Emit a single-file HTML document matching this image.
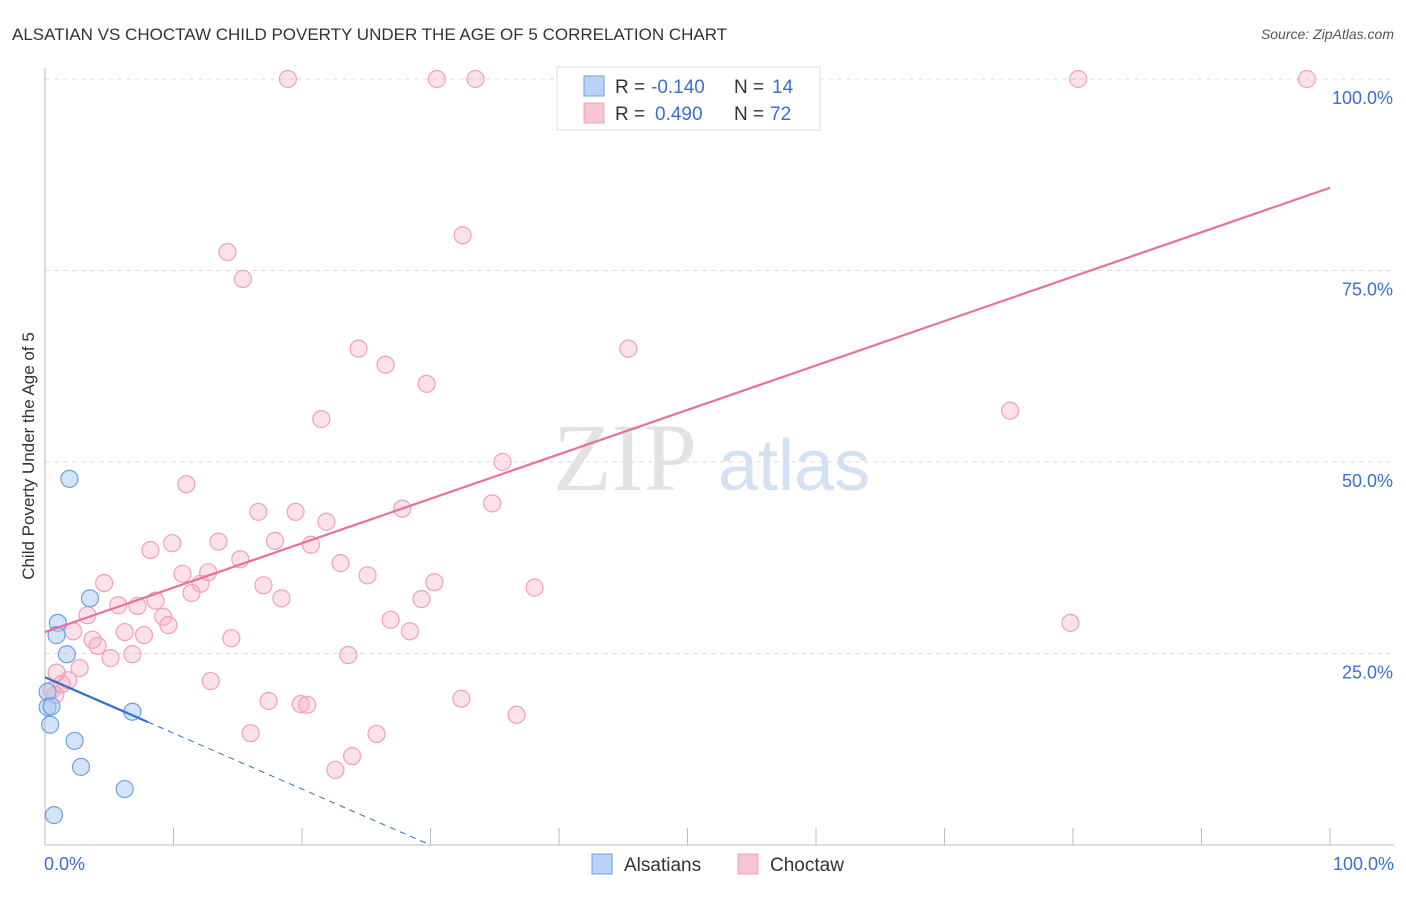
<!DOCTYPE html>
<html><head><meta charset="utf-8"><style>
body{margin:0;background:#fff;font-family:"Liberation Sans",sans-serif;}
</style></head><body>
<svg id="c" width="1406" height="892" viewBox="0 0 1406 892" font-family="Liberation Sans, sans-serif">
<text x="12" y="40" font-size="17" fill="#333">ALSATIAN VS CHOCTAW CHILD POVERTY UNDER THE AGE OF 5 CORRELATION CHART</text>
<text x="1394" y="39" font-size="14" fill="#555" text-anchor="end" font-style="italic">Source: ZipAtlas.com</text>
<text x="34" y="456" font-size="17" fill="#333" text-anchor="middle" transform="rotate(-90 34 456)">Child Poverty Under the Age of 5</text>
<g>
<text x="553" y="490" font-size="96" fill="#e2e2e2" style="font-family:'Liberation Serif',serif">ZIP</text>
<text x="718" y="490" font-size="72" fill="#d3e1f4">atlas</text>
</g>
<g id="grid"></g><g id="axes"></g><g id="pts"></g><g id="lines"></g>
<g>
<rect x="557" y="67" width="263" height="63" fill="#fff" stroke="#ddd"/>
<rect x="584" y="76" width="20" height="20" fill="#b9d2f5" stroke="#6ea0e0"/>
<text x="615" y="93" font-size="19" fill="#333">R =</text>
<text x="651" y="93" font-size="19" fill="#3a6fd0">-0.140</text>
<text x="734" y="93" font-size="19" fill="#333">N =</text>
<text x="772" y="93" font-size="19" fill="#3a6fd0">14</text>
<rect x="584" y="103" width="20" height="20" fill="#f9c5d5" stroke="#f0a0b8"/>
<text x="615" y="120" font-size="19" fill="#333">R =</text>
<text x="655" y="120" font-size="19" fill="#3a6fd0">0.490</text>
<text x="734" y="120" font-size="19" fill="#333">N =</text>
<text x="770" y="120" font-size="19" fill="#3a6fd0">72</text>
</g>
<g>
<rect x="592" y="854" width="20" height="20" fill="#b9d2f5" stroke="#6ea0e0"/>
<text x="624" y="871" font-size="19" fill="#333">Alsatians</text>
<rect x="738" y="854" width="20" height="20" fill="#f9c5d5" stroke="#f0a0b8"/>
<text x="770" y="871" font-size="19" fill="#333">Choctaw</text>
</g>
</svg>
<script>
const yTicks=[25,50,75,100];
const yTickLabels=["25.0%","50.0%","75.0%","100.0%"];
const xTickLabels=["0.0%","100.0%"];
const blueX=[1.9,3.5,1.0,0.9,1.7,0.2,0.2,0.5,0.4,2.3,2.8,6.8,6.2,0.7];
const blueY=[47.8,32.2,29.0,27.4,24.9,20.0,18.0,18.1,15.7,13.6,10.2,17.4,7.3,3.9];
const pinkX=[18.9,30.5,33.5,80.4,98.2,32.5,14.2,15.4,24.4,45.4,26.5,29.7,21.5,75.1,35.6,11.0,34.8,16.6,19.5,27.8,21.9,9.9,8.2,13.5,17.9,20.7,15.2,23.0,10.7,12.7,25.1,30.3,4.6,12.1,17.0,38.1,11.4,18.4,29.3,8.6,5.7,7.2,3.3,9.2,9.6,26.9,2.2,6.2,14.5,7.7,28.4,3.7,4.1,6.8,5.1,23.6,79.8,2.7,0.9,1.8,12.9,1.3,32.4,17.4,19.9,20.4,36.7,16.0,25.8,23.9,22.6,0.8,0.5];
const pinkY=[100,100,100,100,100,79.6,77.4,73.9,64.8,64.8,62.7,60.2,55.6,56.7,50.0,47.1,44.6,43.5,43.5,43.9,42.2,39.4,38.5,39.6,39.7,39.2,37.3,36.8,35.4,35.6,35.2,34.3,34.2,34.1,33.9,33.6,32.9,32.2,32.1,31.9,31.3,31.2,30.0,29.8,28.7,29.4,27.9,27.8,27.0,27.4,27.9,26.8,26.0,24.9,24.4,24.8,29.0,23.1,22.5,21.5,21.4,21.0,19.1,18.8,18.4,18.3,17.0,14.6,14.5,11.6,9.8,19.6,20.2];
const pinkTrend=[27.8,85.8];
const blueTrend=[21.9,-0.73];
const X=v=>45+v*12.85, Y=v=>845-v*7.66;
const NS="http://www.w3.org/2000/svg";
function mk(p,t,a){const e=document.createElementNS(NS,t);for(const k in a)e.setAttribute(k,a[k]);p.appendChild(e);return e;}
const grid=document.getElementById('grid'),axes=document.getElementById('axes'),pts=document.getElementById('pts'),lines=document.getElementById('lines');
yTicks.forEach((t,i)=>{
 const l=mk(grid,'line',{x1:45,x2:1394,y1:Y(t),y2:Y(t),stroke:'#ddd','stroke-dasharray':'5,4'});
 
 
 const tx=mk(grid,'text',{x:1393,y:Y(t)+25,'font-size':18,fill:'#3a6fd0','text-anchor':'end'});tx.textContent=yTickLabels[i];
 
 
});
const ya=mk(axes,'line',{x1:45,x2:45,y1:68,y2:845,stroke:'#bbb'});


const xa=mk(axes,'line',{x1:45,x2:1394,y1:845,y2:845,stroke:'#bbb'});


for(let i=1;i<=10;i++){const t=mk(axes,'line',{x1:X(i*10),x2:X(i*10),y1:828,y2:845,stroke:'#bbb'});
 
 }
[[0,'start',44],[100,'end',1394]].forEach((d,i)=>{const t=mk(axes,'text',{x:d[2],y:870,'font-size':18,fill:'#3a6fd0','text-anchor':d[1]});t.textContent=xTickLabels[i];
 
 });
pinkX.forEach((x,i)=>{const c=mk(pts,'circle',{cx:X(x),cy:Y(pinkY[i]),r:8.5,fill:'rgba(246,170,195,0.35)',stroke:'#f0a0b8','stroke-width':1.2});
 
 });
blueX.forEach((x,i)=>{const c=mk(pts,'circle',{cx:X(x),cy:Y(blueY[i]),r:8.5,fill:'rgba(160,195,240,0.45)',stroke:'#6ea0e0','stroke-width':1.2});
 
 });
const pl=mk(lines,'line',{x1:X(0),y1:Y(pinkTrend[0]),x2:X(100),y2:Y(pinkTrend[1]),stroke:'#e8709a','stroke-width':2.2});


const bl=mk(lines,'line',{x1:X(0),y1:Y(blueTrend[0]),x2:X(8),y2:Y(blueTrend[0]+8*blueTrend[1]),stroke:'#2f6fd0','stroke-width':2.2});


const xz=-blueTrend[0]/blueTrend[1];
const bd=mk(lines,'line',{x1:X(8),y1:Y(blueTrend[0]+8*blueTrend[1]),x2:X(xz),y2:Y(0),stroke:'#2f6fd0','stroke-width':1,'stroke-dasharray':'6,5'});


</script>
</body></html>
